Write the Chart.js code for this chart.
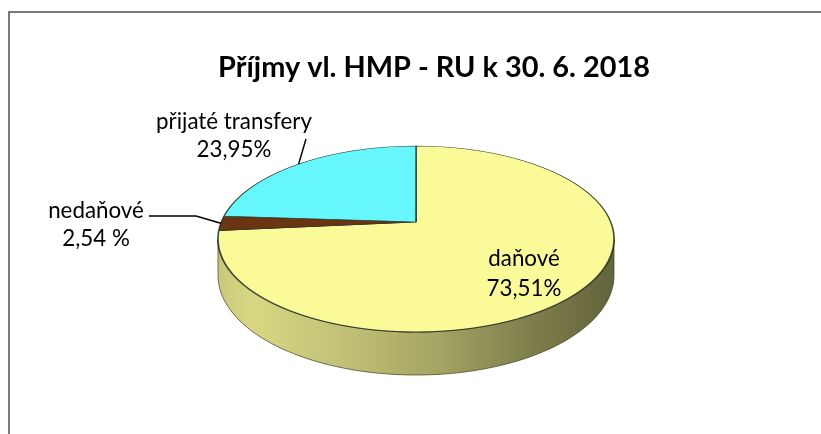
<!DOCTYPE html>
<html><head><meta charset="utf-8">
<script src="https://cdn.jsdelivr.net/npm/chart.js@4/dist/chart.umd.min.js"></script>
<style>html,body{margin:0;padding:0;background:#fff;overflow:hidden}canvas{display:block}</style>
</head><body>
<canvas id="c" width="821" height="434"></canvas>
<script>
// ---- data ----
const chartTitle = 'Příjmy vl. HMP - RU k 30. 6. 2018';
const categories = ['daňové', 'nedaňové', 'přijaté transfery'];
const shares = [73.51, 2.54, 23.95];
const shareLabels = ['73,51%', '2,54 %', '23,95%'];

// ---- styles / layout ----
const sliceColors = ['#FAFA98', '#6B3512', '#66F7FC'];
const FONT = 'Lato, "Open Sans", sans-serif';
const P = { x0: 416, y0: 222, top: 146, bottom: 332, halfWidth: 198, depth: 43 };
const ea = P.y0 - P.top, eb = P.bottom - P.y0;
const q = (eb - ea) / (eb + ea);
const B = ea * (1 + q);
const A = P.halfWidth * Math.sqrt(1 - q * q);
const D = P.depth * (1 - q);
function proj(u, v) { const w = 1 - q * v; return { x: P.x0 + A * u / w, y: P.y0 + B * v / w }; }
function vOf(Y) { const d = Y - P.y0; return d / (B + q * d); }

const labelLayout = [
  { x: 524, y: 266, gap: 30, line: null },
  { x: 96, y: 218, gap: 28, line: [[196, 216], [149, 216]] },
  { x: 234, y: 129, gap: 28, line: [[306, 139]] }
];

function hexRgb(h) { const n = parseInt(h.slice(1), 16); return [n >> 16 & 255, n >> 8 & 255, n & 255]; }
function shade(h, f) { const c = hexRgb(h); return 'rgb(' + c.map(v => Math.round(v * f)).join(',') + ')'; }

const pie3d = {
  id: 'pie3d',
  beforeDraw(chart) {
    const ctx = chart.ctx;
    ctx.save();
    ctx.fillStyle = '#fff';
    ctx.fillRect(0, 0, chart.width, chart.height);
    ctx.fillStyle = '#7a7a7a';
    ctx.fillRect(8, 11, chart.width - 8, 2);
    ctx.fillRect(8, 11, 2, chart.height - 11);
    ctx.restore();
  },
  beforeDatasetsDraw(chart) {
    const ctx = chart.ctx;
    const meta = chart.getDatasetMeta(0);
    const arcs = meta.data;
    const base = ctx.getTransform();
    // --- sides ---
    const t0 = Math.asin(q), t1 = Math.PI - t0;
    const left = P.x0 - P.halfWidth, right = P.x0 + P.halfWidth;
    arcs.forEach((arc, i) => {
      for (let k = -1; k <= 1; k++) {
        const s = arc.startAngle + k * 2 * Math.PI, e = arc.endAngle + k * 2 * Math.PI;
        const a = Math.max(s, t0), b = Math.min(e, t1);
        if (b <= a) continue;
        const N = 80;
        ctx.save();
        ctx.beginPath();
        for (let j = 0; j <= N; j++) {
          const t = a + (b - a) * j / N;
          const p = proj(Math.cos(t), Math.sin(t));
          j ? ctx.lineTo(p.x, p.y) : ctx.moveTo(p.x, p.y);
        }
        for (let j = N; j >= 0; j--) {
          const t = a + (b - a) * j / N;
          const p = proj(Math.cos(t), Math.sin(t));
          ctx.lineTo(p.x, p.y + D / (1 - q * Math.sin(t)));
        }
        ctx.closePath();
        const g = ctx.createLinearGradient(left, 0, right, 0);
        const col = sliceColors[i];
        [[0, 0.8], [0.08, 0.86], [0.3, 0.78], [0.55, 0.66], [0.8, 0.5], [1, 0.4]]
          .forEach(([o, f]) => g.addColorStop(o, shade(col, f)));
        ctx.fillStyle = g;
        ctx.fill();
        ctx.strokeStyle = 'rgba(70,70,35,0.75)';
        ctx.lineWidth = 1;
        ctx.stroke();
        ctx.restore();
      }
    });
    // --- top face: Chart.js arcs, remapped row by row in perspective ---
    const cxS = arcs[0].x, cyS = arcs[0].y, R = arcs[0].outerRadius;
    for (let Y = P.top - 2; Y < P.bottom + 2; Y++) {
      const va = vOf(Y), vb = vOf(Y + 1), vm = vOf(Y + 0.5);
      const ysa = cyS + R * va, ysb = cyS + R * vb;
      const ky = 1 / (ysb - ysa);
      const sx = A / (1 - q * vm) / R;
      ctx.save();
      ctx.setTransform(base);
      ctx.beginPath();
      ctx.rect(0, Y, chart.width, 1);
      ctx.clip();
      ctx.transform(sx, 0, 0, ky, P.x0 - sx * cxS, Y - ky * ysa);
      meta.controller.draw();
      ctx.restore();
    }
    return false;
  },
  afterDraw(chart) {
    const ctx = chart.ctx;
    const arcs = chart.getDatasetMeta(0).data;
    ctx.save();
    // title
    let ts = 24;
    ctx.font = 'bold ' + ts + 'px ' + FONT;
    ts = ts * 432 / ctx.measureText(chartTitle).width;
    ctx.font = 'bold ' + ts.toFixed(2) + 'px ' + FONT;
    ctx.fillStyle = '#000';
    ctx.textAlign = 'center';
    ctx.textBaseline = 'alphabetic';
    ctx.fillText(chartTitle, 434, 77);
    // labels
    let ls = 18;
    ctx.font = ls + 'px ' + FONT;
    ls = ls * 156 / ctx.measureText(categories[2]).width;
    ctx.font = ls.toFixed(2) + 'px ' + FONT;
    labelLayout.forEach((L, i) => {
      if (L.line) {
        const mid = (arcs[i].startAngle + arcs[i].endAngle) / 2;
        const p = proj(Math.cos(mid), Math.sin(mid));
        ctx.strokeStyle = '#000';
        ctx.lineWidth = 1.5;
        ctx.beginPath();
        ctx.moveTo(p.x, p.y);
        L.line.forEach(pt => ctx.lineTo(pt[0], pt[1]));
        ctx.stroke();
      }
      ctx.fillStyle = '#000';
      ctx.fillText(categories[i], L.x, L.y);
      ctx.fillText(shareLabels[i], L.x, L.y + L.gap);
    });
    ctx.restore();
  }
};

new Chart(document.getElementById('c'), {
  type: 'pie',
  data: {
    labels: categories,
    datasets: [{
      data: shares,
      backgroundColor: sliceColors,
      borderColor: 'rgba(30,45,35,0.85)',
      borderWidth: 1.6,
      clip: false
    }]
  },
  options: {
    responsive: false,
    animation: false,
    events: [],
    radius: 198,
    layout: { padding: { left: 11, right: 0, top: 19, bottom: 19 } },
    plugins: { legend: { display: false }, tooltip: { enabled: false }, title: { display: false } }
  },
  plugins: [pie3d]
});
</script>
</body></html>
